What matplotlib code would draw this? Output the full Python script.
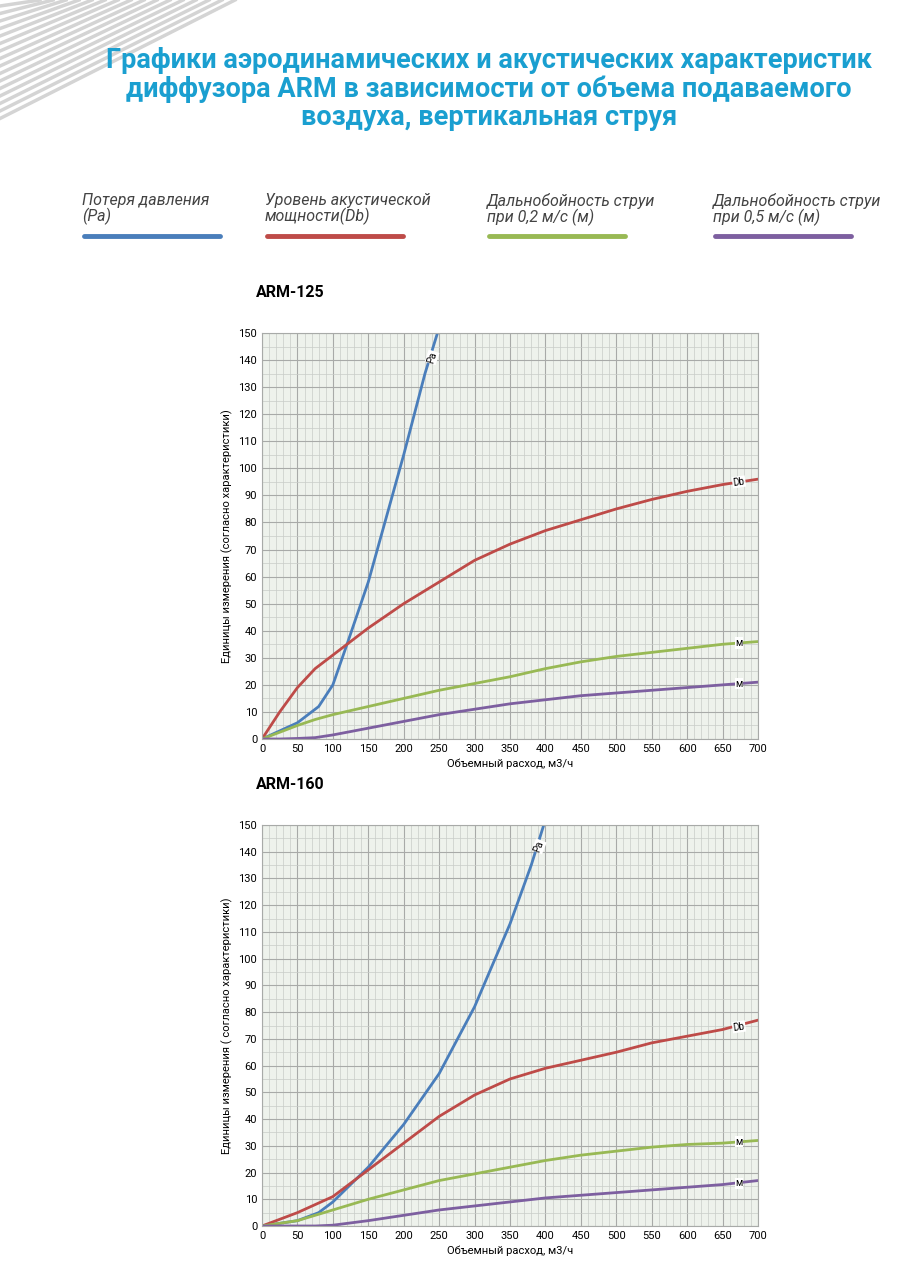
import numpy as np
import matplotlib.pyplot as plt
from matplotlib.ticker import MultipleLocator

plt.rcParams['font.family'] = ['Roboto', 'DejaVu Sans']

# ARM-125
x1_pa = [0, 25, 50, 80, 100, 120, 150, 200, 230, 250]
y1_pa = [0, 3, 6, 12, 20, 35, 58, 105, 135, 152]
x_common = [0, 25, 50, 75, 100, 150, 200, 250, 300, 350, 400, 450, 500, 550, 600, 650, 700]
y1_db = [0, 10, 19, 26, 31, 41, 50, 58, 66, 72, 77, 81, 85, 88.5, 91.5, 94, 96]
y1_g = [0, 2.5, 5, 7.2, 9, 12, 15, 18, 20.5, 23, 26, 28.5, 30.5, 32, 33.5, 35, 36]
y1_p = [0, 0, 0.2, 0.5, 1.5, 4, 6.5, 9, 11, 13, 14.5, 16, 17, 18, 19, 20, 21]

# ARM-160
x2_pa = [0, 50, 80, 100, 150, 200, 250, 300, 350, 380, 400]
y2_pa = [0, 2, 5, 9, 22, 38, 57, 82, 113, 135, 152]
y2_db = [0, 2.5, 5, 8, 11, 21, 31, 41, 49, 55, 59, 62, 65, 68.5, 71, 73.5, 77]
y2_g = [0, 1, 2, 4, 6, 10, 13.5, 17, 19.5, 22, 24.5, 26.5, 28, 29.5, 30.5, 31, 32]
y2_p = [0, 0, 0, 0, 0.3, 2, 4, 6, 7.5, 9, 10.5, 11.5, 12.5, 13.5, 14.5, 15.5, 17]

blue, red, green, purple = '#4a7ebb', '#be4b48', '#98b954', '#7d5fa0'

fig = plt.figure(figsize=(9, 12.69), dpi=100)

# decorative stripes
for i in range(16):
    y0 = 1 - (6 + i * 7.5) / 1269
    x0 = (40 + i * 13) / 900
    fig.add_artist(plt.Line2D([0, x0], [y0, 1], color='#d4d4d4', lw=2.5,
                              transform=fig.transFigure))

fig.text(0.543, 0.93, 'Графики аэродинамических и акустических характеристик\n'
         'диффузора ARM в зависимости от объема подаваемого\nвоздуха, вертикальная струя',
         ha='center', va='center', fontsize=19.5, fontweight='bold', color='#1a9fd0',
         linespacing=1.05)

legend = [('Потеря давления\n(Pa)', blue, 82),
          ('Уровень акустической\nмощности(Db)', red, 265),
          ('Дальнобойность струи\nпри 0,2 м/с (м)', green, 487),
          ('Дальнобойность струи\nпри 0,5 м/с (м)', purple, 713)]
for txt, c, px in legend:
    fig.text(px / 900, 1 - 193 / 1269, txt, ha='left', va='top', fontsize=11.5,
             style='italic', color='#444444', linespacing=1.0)
    fig.add_artist(plt.Line2D([(px + 2) / 900, (px + 138) / 900], [1 - 236 / 1269] * 2,
                              color=c, lw=3.5, solid_capstyle='round', transform=fig.transFigure))


def draw(ax, title, xpa, ypa, ydb, yg, yp, pa_lab):
    ax.set_facecolor('#eef2ec')
    ax.plot(xpa, ypa, color=blue, lw=2)
    ax.plot(x_common, ydb, color=red, lw=2)
    ax.plot(x_common, yg, color=green, lw=2)
    ax.plot(x_common, yp, color=purple, lw=2)
    ax.set_xlim(0, 700)
    ax.set_ylim(0, 150)
    ax.xaxis.set_major_locator(MultipleLocator(50))
    ax.xaxis.set_minor_locator(MultipleLocator(10))
    ax.yaxis.set_major_locator(MultipleLocator(10))
    ax.yaxis.set_minor_locator(MultipleLocator(5))
    ax.grid(which='major', color='#a8aaa8', lw=0.8)
    ax.grid(which='minor', color='#c8ccc8', lw=0.5)
    ax.tick_params(which='both', length=0, labelsize=8)
    for s in ax.spines.values():
        s.set_color('#a8aaa8')
    ax.set_xlabel('Объемный расход, м3/ч', fontsize=8, labelpad=3)
    ax.set_ylabel(title[1], fontsize=8)
    ax.text(-0.012, 1.1, title[0], transform=ax.transAxes, fontsize=11.5,
            fontweight='bold', ha='left', va='center')
    bb = dict(facecolor='white', edgecolor='none', pad=0.5)
    ax.text(pa_lab[0], pa_lab[1], 'Pa', fontsize=7, rotation=pa_lab[2],
            ha='center', va='center', bbox=bb)
    ax.text(673, ydb[-2] + 1, 'Db', fontsize=7, rotation=8, ha='center', va='center', bbox=bb)
    ax.text(673, yg[-2] + 0.5, 'м', fontsize=7, ha='center', va='center', bbox=bb)
    ax.text(673, yp[-2] + 0.5, 'м', fontsize=7, ha='center', va='center', bbox=bb)


ax1 = fig.add_axes([262 / 900, 1 - 739 / 1269, 496 / 900, 406 / 1269])
draw(ax1, ('ARM-125', 'Единицы измерения (согласно характеристики)'),
     x1_pa, y1_pa, y1_db, y1_g, y1_p, (240, 141, 72))
ax2 = fig.add_axes([262 / 900, 1 - 1226 / 1269, 496 / 900, 401 / 1269])
draw(ax2, ('ARM-160', 'Единицы измерения ( согласно характеристики)'),
     x2_pa, y2_pa, y2_db, y2_g, y2_p, (391, 142, 68))

fig.savefig('out.png')
